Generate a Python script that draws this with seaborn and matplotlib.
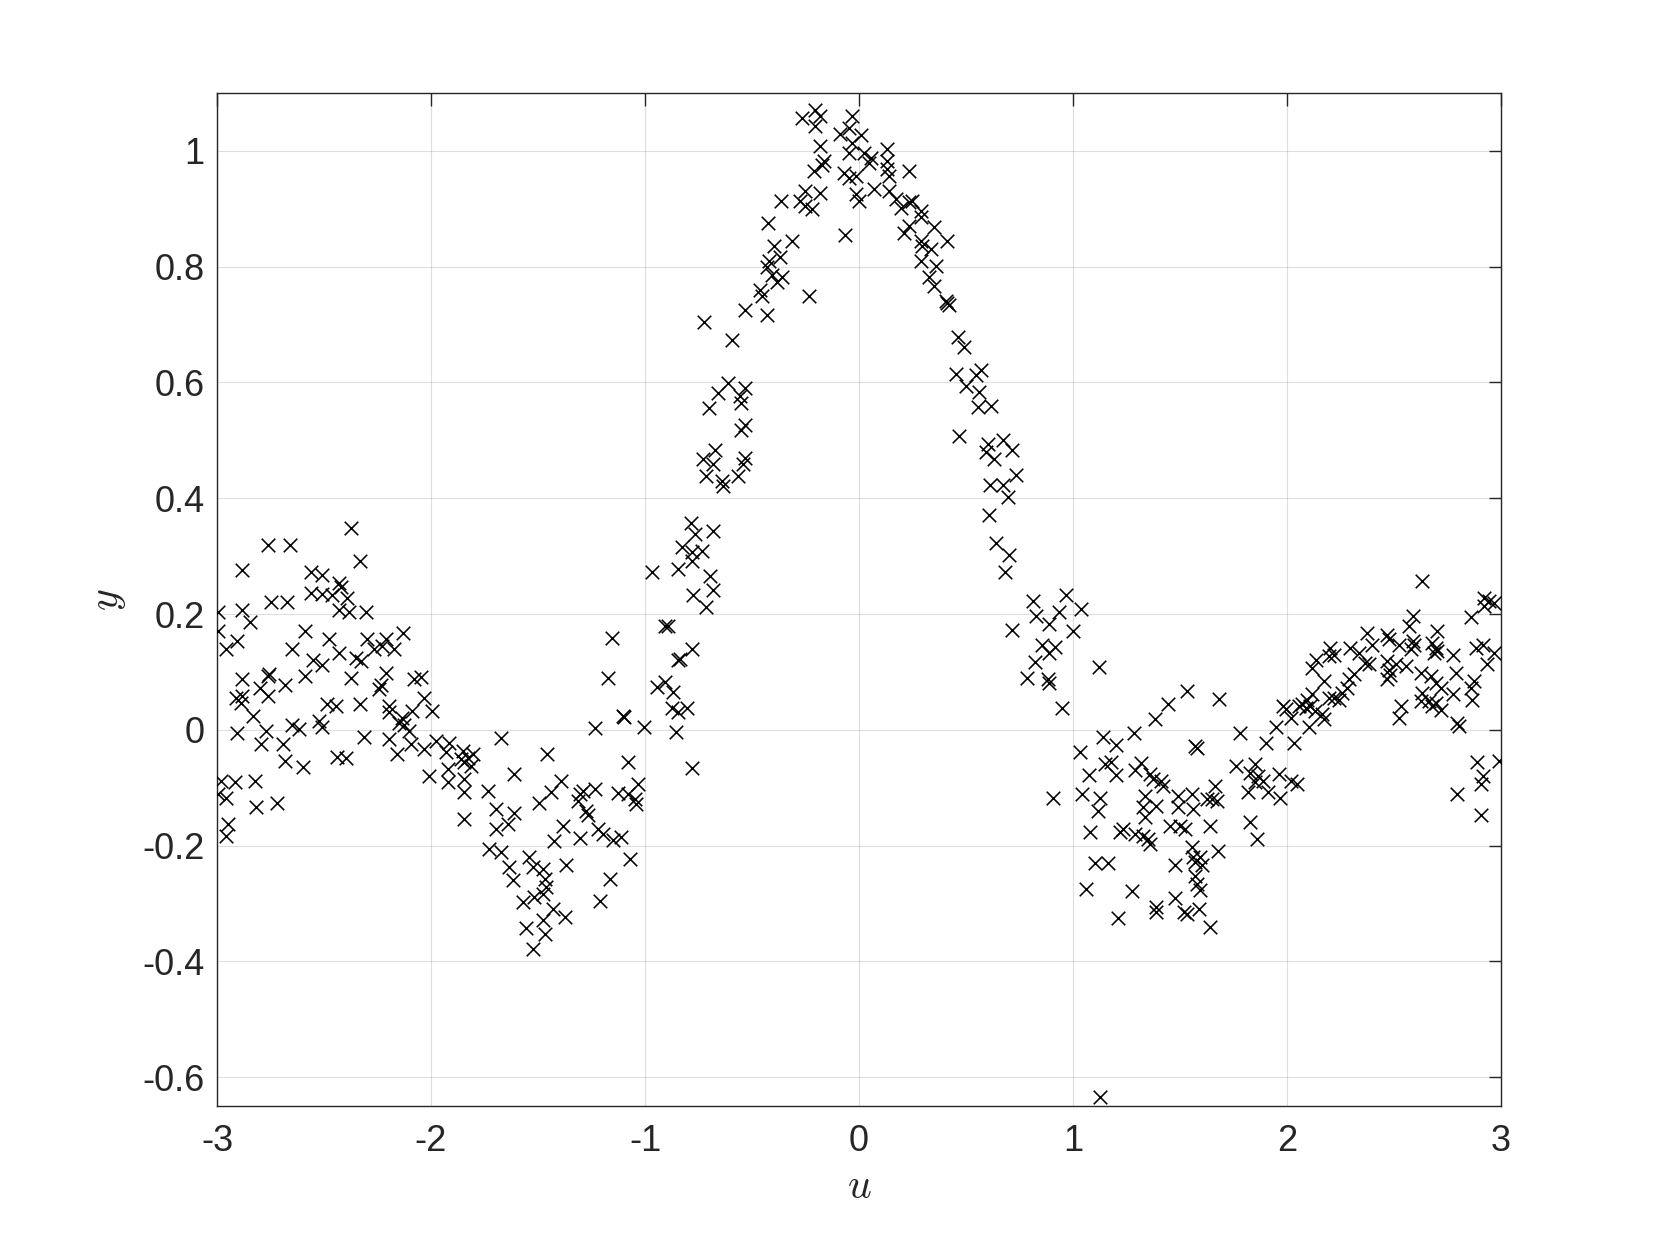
import numpy as np
import pandas as pd
import seaborn as sns
import matplotlib.pyplot as plt

# sample points (u, y)
u_left = [-2.762, -2.660, -2.882, -2.559, -2.51, -2.746, -2.673, -2.559, -2.51,
          -2.995, -2.882, -2.847, -2.995, -2.907, -2.956, -2.590, -2.648, -2.551, -2.51,
          -2.882, -2.762, -2.755, -2.80, -2.684, -2.590, -2.910, -2.882, -2.886, -2.762, -2.832,
          -2.907, -2.770, -2.648, -2.617, -2.793, -2.692, -2.525, -2.509, -2.684, -2.598,
          -2.980, -2.917, -2.824, -2.995, -2.956, -2.816, -2.720, -2.949, -2.956,
          -2.375, -2.332, -2.430, -2.422, -2.461, -2.391, -2.430, -2.383, -2.305, -2.477, -2.430,
          -2.298, -2.212, -2.129, -2.266, -2.227, -2.173, -2.352, -2.329, -2.375, -2.212, -2.235, -2.243,
          -2.079, -2.048, -2.484, -2.445, -2.332, -2.196, -2.196, -2.033, -1.995,
          -2.134, -2.087, -2.126, -2.103, -2.150, -2.313, -2.196, -2.095, -2.033, -2.157,
          -2.438, -2.399, -2.01]
y_left = [0.319, 0.319, 0.276, 0.273, 0.267, 0.221, 0.221, 0.236, 0.235,
          0.203, 0.207, 0.187, 0.170, 0.154, 0.139, 0.170, 0.139, 0.121, 0.112,
          0.087, 0.093, 0.097, 0.073, 0.078, 0.093, 0.055, 0.058, 0.047, 0.058, 0.024,
          -0.005, -0.002, 0.009, 0.001, -0.025, -0.025, 0.015, 0.004, -0.054, -0.065,
          -0.088, -0.091, -0.088, -0.111, -0.117, -0.134, -0.127, -0.163, -0.183,
          0.348, 0.291, 0.253, 0.247, 0.233, 0.227, 0.207, 0.204, 0.204, 0.156, 0.133,
          0.157, 0.157, 0.167, 0.139, 0.144, 0.139, 0.124, 0.118, 0.089, 0.098, 0.078, 0.070,
          0.087, 0.091, 0.044, 0.041, 0.045, 0.041, 0.030, 0.055, 0.032,
          0.021, 0.032, 0.009, -0.002, 0.012, -0.012, -0.016, -0.025, -0.034, -0.041,
          -0.047, -0.048, -0.080]

u_dip1 = [-1.977, -1.914, -1.930, -1.673, -1.852, -1.805, -1.860, -1.844, -1.829, -1.813,
          -1.922, -1.922, -1.844, -1.844, -1.611, -1.735, -1.696, -1.611, -1.844, -1.696, -1.642, -1.497,
          -1.727, -1.673, -1.634, -1.618, -1.540, -1.525, -1.572, -1.517, -1.556, -1.525,
          -1.154, -1.173, -1.103, -1.097, -1.235, -1.005, -1.456, -1.079, -1.391, -1.438,
          -1.305, -1.290, -1.313, -1.232, -1.274, -1.266, -1.126, -1.079, -1.048, -1.033, -1.040,
          -1.383, -1.425, -1.305, -1.220, -1.196, -1.150, -1.111, -1.072, -1.368, -1.165, -1.212,
          -1.477, -1.469, -1.461, -1.477, -1.430, -1.375, -1.477, -1.469]
y_dip1 = [-0.019, -0.022, -0.039, -0.015, -0.036, -0.042, -0.051, -0.056, -0.048, -0.062,
          -0.068, -0.091, -0.085, -0.108, -0.077, -0.105, -0.137, -0.143, -0.154, -0.171, -0.163, -0.127,
          -0.206, -0.211, -0.237, -0.260, -0.220, -0.237, -0.297, -0.289, -0.343, -0.378,
          0.159, 0.090, 0.024, 0.022, 0.003, 0.004, -0.042, -0.056, -0.088, -0.108,
          -0.111, -0.105, -0.123, -0.102, -0.140, -0.148, -0.110, -0.111, -0.120, -0.094, -0.128,
          -0.166, -0.192, -0.187, -0.171, -0.180, -0.191, -0.186, -0.223, -0.234, -0.257, -0.295,
          -0.240, -0.257, -0.272, -0.283, -0.309, -0.323, -0.329, -0.352]

u_peak = [-0.723, -0.533, -0.592, -0.614, -0.533, -0.556, -0.551, -0.660, -0.701, -0.551, -0.533,
          -0.673, -0.727, -0.681, -0.717, -0.639, -0.634, -0.564, -0.540, -0.533,
          -0.785, -0.681, -0.766, -0.829, -0.782, -0.735, -0.782, -0.844, -0.969, -0.696, -0.681,
          -0.774, -0.717, -0.907, -0.891, -0.836, -0.844, -0.782, -0.945, -0.907, -0.868,
          -0.875, -0.844, -0.805, -0.857, -0.782,
          -0.266, -0.204, -0.181, -0.204, -0.033, -0.087, -0.048, -0.033, -0.048, -0.181,
          -0.212, -0.173, -0.165, -0.072, -0.048, -0.012, -0.015, -0.251, -0.181, -0.274,
          -0.251, -0.220, -0.363, -0.067, -0.425, -0.399, -0.313, -0.368, -0.422, -0.430,
          -0.407, -0.360, -0.383, -0.461, -0.453, -0.235, -0.430,
          0.008, 0.023, 0.055, 0.047, 0.132, 0.132, 0.132, 0.140, 0.234, 0.0, 0.070, 0.140,
          0.171, 0.195, 0.234, 0.249, 0.288, 0.288, 0.234, 0.210, 0.350, 0.413, 0.288, 0.296,
          0.335, 0.288, 0.358, 0.327, 0.350, 0.405, 0.413, 0.421, 0.460, 0.491, 0.452, 0.50, 0.467,
          0.570, 0.547, 0.562, 0.555, 0.617, 0.601, 0.593, 0.632, 0.674, 0.715, 0.734,
          0.612, 0.671, 0.695, 0.606, 0.640, 0.702, 0.684, 0.967, 0.812, 0.827, 0.933, 0.886,
          1.0, 0.715, 0.855, 0.917, 0.889, 0.824, 0.783, 0.882, 0.889, 0.949, 0.908]
y_peak = [0.704, 0.725, 0.674, 0.599, 0.591, 0.576, 0.565, 0.581, 0.556, 0.518, 0.527,
          0.484, 0.467, 0.459, 0.438, 0.430, 0.421, 0.438, 0.459, 0.470,
          0.358, 0.343, 0.338, 0.316, 0.307, 0.309, 0.292, 0.278, 0.272, 0.265, 0.241,
          0.232, 0.212, 0.180, 0.180, 0.123, 0.120, 0.139, 0.074, 0.083, 0.066,
          0.037, 0.031, 0.037, -0.003, -0.066,
          1.057, 1.071, 1.060, 1.043, 1.060, 1.029, 1.040, 1.014, 0.997, 1.008,
          0.966, 0.975, 0.983, 0.962, 0.954, 0.956, 0.926, 0.931, 0.928, 0.914,
          0.905, 0.899, 0.914, 0.855, 0.876, 0.836, 0.845, 0.816, 0.810, 0.799,
          0.785, 0.782, 0.773, 0.759, 0.750, 0.750, 0.716,
          1.027, 0.996, 0.987, 0.979, 1.003, 0.982, 0.968, 0.956, 0.966, 0.913, 0.935, 0.931,
          0.917, 0.902, 0.911, 0.914, 0.896, 0.885, 0.871, 0.859, 0.869, 0.845, 0.845, 0.836,
          0.830, 0.810, 0.802, 0.782, 0.767, 0.741, 0.738, 0.733, 0.679, 0.662, 0.615, 0.593, 0.508,
          0.621, 0.612, 0.583, 0.557, 0.559, 0.494, 0.480, 0.468, 0.501, 0.483, 0.440,
          0.423, 0.423, 0.402, 0.371, 0.323, 0.302, 0.273, 0.233, 0.223, 0.196, 0.203, 0.182,
          0.170, 0.173, 0.147, 0.143, 0.132, 0.117, 0.090, 0.087, 0.081, 0.038, -0.117]

u_dip2 = [1.039, 1.121, 1.444, 1.382, 1.283, 1.140, 1.202, 1.031, 1.148, 1.179, 1.075, 1.202,
          1.288, 1.319, 1.358, 1.374, 1.413, 1.421, 1.044, 1.125, 1.117, 1.335, 1.327, 1.389,
          1.335, 1.49, 1.49, 1.452, 1.50, 1.078, 1.218, 1.234, 1.288, 1.327, 1.350, 1.358,
          1.101, 1.164, 1.475, 1.062, 1.277, 1.475, 1.389, 1.389, 1.210, 1.128,
          1.534, 1.684, 1.98, 1.995, 1.780, 1.949, 1.902, 1.570, 1.578, 1.762, 1.850, 1.827,
          1.866, 1.850, 1.889, 1.819, 1.913, 1.960, 1.967, 1.827, 1.861, 1.664, 1.648, 1.671,
          1.625, 1.555, 1.562, 1.523, 1.640, 1.679, 1.555, 1.562, 1.593, 1.570, 1.601, 1.570,
          1.578, 1.593, 1.516, 1.531, 1.586, 1.640]
y_dip2 = [0.209, 0.109, 0.044, 0.019, -0.005, -0.012, -0.027, -0.039, -0.059, -0.055, -0.078, -0.078,
          -0.069, -0.058, -0.077, -0.085, -0.088, -0.097, -0.111, -0.117, -0.140, -0.114, -0.134, -0.131,
          -0.151, -0.114, -0.134, -0.166, -0.167, -0.176, -0.177, -0.172, -0.180, -0.183, -0.188, -0.197,
          -0.230, -0.230, -0.234, -0.275, -0.279, -0.291, -0.306, -0.315, -0.325, -0.635,
          0.067, 0.054, 0.041, 0.036, -0.005, 0.004, -0.022, -0.028, -0.031, -0.062, -0.059, -0.074,
          -0.080, -0.091, -0.088, -0.108, -0.108, -0.077, -0.117, -0.160, -0.188, -0.097, -0.120, -0.123,
          -0.120, -0.111, -0.137, -0.171, -0.166, -0.210, -0.203, -0.220, -0.220, -0.229, -0.234, -0.252,
          -0.266, -0.277, -0.315, -0.318, -0.309, -0.340]

u_right = [2.371, 2.467, 2.475, 2.397, 2.202, 2.218, 2.195, 2.296, 2.335, 2.137, 2.117, 2.366,
           2.382, 2.467, 2.475, 2.467, 2.48, 2.312, 2.288, 2.174, 2.280, 2.257, 2.241, 2.117,
           2.093, 2.070, 2.055, 2.109, 2.086, 2.132, 2.195, 2.218, 2.164, 2.171, 2.016, 2.101,
           2.031, 2.016, 2.047,
           2.632, 2.921, 2.944, 2.967, 2.921, 2.861, 2.586, 2.570, 2.702, 2.523, 2.586, 2.593,
           2.578, 2.679, 2.695, 2.687, 2.702, 2.882, 2.913, 2.967, 2.777, 2.508, 2.555, 2.933,
           2.625, 2.671, 2.695, 2.718, 2.788, 2.874, 2.858, 2.866, 2.773, 2.632, 2.625, 2.664,
           2.679, 2.695, 2.718, 2.534, 2.523, 2.796, 2.804, 2.889, 2.991, 2.913, 2.905, 2.793, 2.908]
y_right = [0.167, 0.164, 0.156, 0.147, 0.141, 0.130, 0.127, 0.141, 0.133, 0.121, 0.107, 0.116,
           0.113, 0.118, 0.104, 0.087, 0.094, 0.097, 0.087, 0.084, 0.073, 0.064, 0.052, 0.061,
           0.052, 0.044, 0.041, 0.041, 0.038, 0.032, 0.055, 0.055, 0.027, 0.018, 0.021, 0.004,
           -0.022, -0.088, -0.094,
           0.257, 0.228, 0.222, 0.219, 0.213, 0.194, 0.196, 0.179, 0.170, 0.147, 0.153, 0.147,
           0.139, 0.150, 0.141, 0.133, 0.136, 0.141, 0.147, 0.133, 0.130, 0.113, 0.110, 0.113,
           0.098, 0.093, 0.081, 0.073, 0.098, 0.084, 0.073, 0.052, 0.061, 0.064, 0.050, 0.050,
           0.041, 0.047, 0.035, 0.041, 0.021, 0.012, 0.007, -0.055, -0.054, -0.079, -0.094, -0.111, -0.148]

x_ticks = [-3, -2, -1, 0, 1, 2, 3]
y_ticks = [-0.6, -0.4, -0.2, 0, 0.2, 0.4, 0.6, 0.8, 1]
y_tick_labels = ['-0.6', '-0.4', '-0.2', '0', '0.2', '0.4', '0.6', '0.8', '1']
x_tick_labels = ['-3', '-2', '-1', '0', '1', '2', '3']

df = pd.DataFrame({
    'u': u_left + u_dip1 + u_peak + u_dip2 + u_right,
    'y': y_left + y_dip1 + y_peak + y_dip2 + y_right,
})

sns.set_style('white')
plt.rcParams['font.family'] = ['Liberation Sans', 'DejaVu Sans']
plt.rcParams['mathtext.fontset'] = 'cm'

axcol = '#262626'
fig = plt.figure(figsize=(16.6, 12.45), dpi=100)
ax = fig.add_axes([0.1307, 0.1116, 0.7736, 0.8137])

sns.scatterplot(data=df, x='u', y='y', marker='x', color='black',
                s=95, linewidth=1.15, ax=ax, zorder=3)

ax.set_xlim(-3, 3)
ax.set_ylim(-0.65, 1.1)
ax.set_xticks(x_ticks)
ax.set_xticklabels(x_tick_labels)
ax.set_yticks(y_ticks)
ax.set_yticklabels(y_tick_labels)

ax.grid(True, color='#262626', alpha=0.15, linewidth=0.8)
ax.set_axisbelow(True)
for sp in ax.spines.values():
    sp.set_visible(True)
    sp.set_color(axcol)
    sp.set_linewidth(1.0)
ax.tick_params(direction='in', length=9, width=1.0, colors=axcol,
               labelsize=26, top=True, right=True)
ax.tick_params(axis='x', pad=13)
ax.tick_params(axis='y', pad=9)

ax.set_xlabel('$u$', fontsize=30, color=axcol, labelpad=6)
ax.set_ylabel('$y$', fontsize=30, color=axcol, labelpad=10)

fig.savefig('out.png', dpi=100, facecolor='white')
